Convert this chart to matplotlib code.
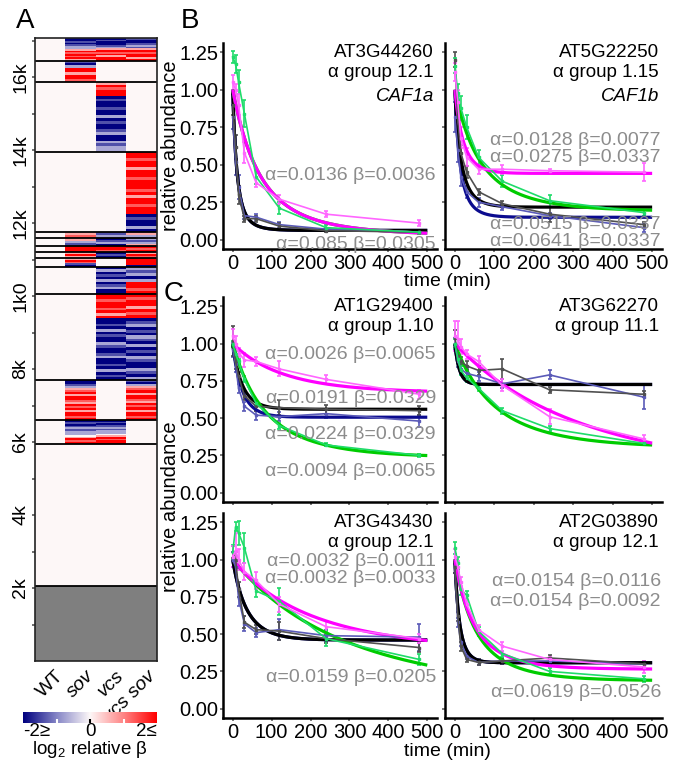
import numpy as np
import matplotlib
matplotlib.use("Agg")
import matplotlib.pyplot as plt
from matplotlib.colors import LinearSegmentedColormap

plt.rcParams["font.family"] = ["Liberation Sans", "DejaVu Sans"]
plt.rcParams["mathtext.fontset"] = "custom"
plt.rcParams["mathtext.rm"] = "Liberation Sans"
plt.rcParams["mathtext.it"] = "Liberation Sans:italic"

# ---------------- heatmap (panel A) ----------------
genotypes = ["WT", "sov", "vcs", "vcs sov"]
code_values = {"N": -2.0, "B": -1.4, "b": -0.7, "w": 0.0, "p": 0.7, "r": 1.3, "R": 2.0}
n_genes = 17070
unmodelled_genes = 2050
cluster_edges = [2050, 5950, 6600, 7700, 10050, 10800, 11030, 11200, 11370,
                 11590, 11750, 13950, 15870, 16450, 17070]
# stripe codes per cluster (bottom cluster first), each string read top to bottom
cluster_wt = ["w"] * 14
cluster_sov = ["w", "NBNBbBbbwpRrR", "NNBbprRpRRrpRrRpRRrR", "w", "w", "pRrBN",
               "pRp", "RRR", "pbB", "pr", "w", "w", "BNbRRpRRr", "NNBNBbbpRrRrRp"]
cluster_vcs = ["w", "NBNBbBbbwpRrRR", "w",
               "RRrRRrRpRNNBNbNBNNbBNNBbNNBNbNBN", "NbNBNbNBbNN", "w", "NBN",
               "RRr", "NBbN", "Bb", "w", "pRrRRNBNNBNNbNBNNBbNNbBbb", "w",
               "NBNNBbpRrRpRR"]
cluster_vcssov = ["w", "w", "BNbprRpRRrpRrRpRRrR",
                  "RrRRpRrRNBbNBNbBNbNBNbBNNbBNb", "bBbNbRRrR", "RRRN", "pRr",
                  "RrR", "bBbp", "pb", "RRrRRpRRrRRRrRpRRrRRNBNNbN", "w", "w",
                  "BNNBbBpRrRRpR"]
heat_yticks = [2000, 4000, 6000, 8000, 10000, 12000, 14000, 16000]
heat_yticklabels = ["2k", "4k", "6k", "8k", "1k0", "12k", "14k", "16k"]

# ---------------- decay curves (panels B, C) ----------------
times = [0, 7.5, 15, 30, 60, 120, 240, 480]
panel_genes = ["AT3G44260", "AT5G22250", "AT1G29400", "AT3G62270", "AT3G43430", "AT2G03890"]
panel_groups = ["α group 12.1", "α group 1.15", "α group 1.10", "α group 11.1",
                "α group 12.1", "α group 12.1"]
panel_names = ["CAF1a", "CAF1b", "", "", "", ""]

# mean relative abundance, order: WT, sov, vcs, vcs sov
means_AT3G44260 = [[0.90, 0.62, 0.30, 0.14, 0.14, 0.09, 0.06, 0.05],
                   [0.82, 0.52, 0.35, 0.16, 0.15, 0.10, 0.07, 0.05],
                   [1.22, 1.17, 1.05, 0.84, 0.42, 0.21, 0.08, 0.05],
                   [1.05, 1.00, 0.90, 0.58, 0.38, 0.27, 0.17, 0.11]]
means_AT5G22250 = [[1.20, 0.80, 0.58, 0.45, 0.32, 0.24, 0.17, 0.10],
                   [0.82, 0.60, 0.42, 0.32, 0.25, 0.22, 0.16, 0.08],
                   [1.16, 0.98, 0.88, 0.75, 0.55, 0.39, 0.26, 0.18],
                   [1.12, 0.92, 0.68, 0.55, 0.47, 0.47, 0.46, 0.45]]
means_AT1G29400 = [[1.02, 0.88, 0.78, 0.65, 0.58, 0.57, 0.56, 0.55],
                   [0.96, 0.86, 0.70, 0.58, 0.52, 0.51, 0.53, 0.48],
                   [1.00, 0.93, 0.88, 0.76, 0.60, 0.45, 0.32, 0.25],
                   [1.05, 1.00, 0.94, 0.89, 0.88, 0.83, 0.76, 0.66]]
means_AT3G62270 = [[1.04, 0.92, 0.88, 0.85, 0.82, 0.83, 0.69, 0.66],
                   [1.00, 0.88, 0.83, 0.80, 0.78, 0.73, 0.79, 0.64],
                   [1.00, 0.90, 0.82, 0.77, 0.70, 0.55, 0.43, 0.33],
                   [1.05, 1.03, 0.98, 0.93, 0.88, 0.72, 0.51, 0.36]]
means_AT3G43430 = [[1.05, 1.00, 0.80, 0.58, 0.53, 0.52, 0.47, 0.41],
                   [1.00, 0.95, 0.74, 0.57, 0.51, 0.53, 0.49, 0.48],
                   [1.05, 1.22, 1.18, 1.08, 0.79, 0.72, 0.47, 0.33],
                   [1.02, 1.06, 1.00, 0.92, 0.86, 0.70, 0.55, 0.47]]
means_AT2G03890 = [[0.95, 0.62, 0.42, 0.33, 0.31, 0.32, 0.34, 0.30],
                   [0.95, 0.58, 0.45, 0.35, 0.31, 0.32, 0.32, 0.30],
                   [1.08, 0.98, 0.80, 0.76, 0.52, 0.37, 0.25, 0.20],
                   [1.02, 0.95, 0.85, 0.70, 0.53, 0.42, 0.33, 0.28]]

# standard errors, same layout
errs_AT3G44260 = [[0.07, 0.08, 0.06, 0.02, 0.02, 0.02, 0.01, 0.01],
                  [0.08, 0.09, 0.08, 0.02, 0.02, 0.02, 0.01, 0.01],
                  [0.04, 0.06, 0.08, 0.09, 0.05, 0.04, 0.02, 0.01],
                  [0.05, 0.04, 0.07, 0.07, 0.03, 0.03, 0.02, 0.02]]
errs_AT5G22250 = [[0.05, 0.07, 0.05, 0.04, 0.02, 0.02, 0.05, 0.02],
                  [0.10, 0.08, 0.06, 0.04, 0.03, 0.02, 0.02, 0.03],
                  [0.05, 0.06, 0.08, 0.08, 0.05, 0.04, 0.04, 0.02],
                  [0.06, 0.08, 0.07, 0.06, 0.03, 0.03, 0.01, 0.06]]
errs_AT1G29400 = [[0.10, 0.05, 0.03, 0.03, 0.03, 0.05, 0.03, 0.03],
                  [0.05, 0.05, 0.03, 0.03, 0.03, 0.03, 0.03, 0.04],
                  [0.02, 0.02, 0.02, 0.02, 0.02, 0.02, 0.01, 0.01],
                  [0.05, 0.05, 0.03, 0.05, 0.03, 0.05, 0.03, 0.03]]
errs_AT3G62270 = [[0.05, 0.04, 0.03, 0.03, 0.03, 0.07, 0.02, 0.02],
                  [0.04, 0.04, 0.03, 0.03, 0.03, 0.03, 0.03, 0.08],
                  [0.03, 0.03, 0.03, 0.03, 0.02, 0.02, 0.02, 0.01],
                  [0.10, 0.12, 0.05, 0.03, 0.04, 0.04, 0.05, 0.03]]
errs_AT3G43430 = [[0.04, 0.05, 0.05, 0.04, 0.03, 0.06, 0.03, 0.03],
                  [0.05, 0.05, 0.05, 0.05, 0.03, 0.07, 0.04, 0.09],
                  [0.05, 0.03, 0.08, 0.10, 0.04, 0.09, 0.05, 0.04],
                  [0.07, 0.12, 0.07, 0.06, 0.06, 0.05, 0.04, 0.03]]
errs_AT2G03890 = [[0.04, 0.03, 0.03, 0.02, 0.02, 0.02, 0.02, 0.02],
                  [0.04, 0.03, 0.03, 0.02, 0.02, 0.02, 0.02, 0.02],
                  [0.04, 0.04, 0.04, 0.03, 0.03, 0.02, 0.02, 0.02],
                  [0.05, 0.04, 0.03, 0.03, 0.03, 0.03, 0.02, 0.04]]

# fitted decay-rate (alpha) and feedback (beta) parameters, WT, sov, vcs, vcs sov
alpha_AT3G44260 = [0.085, 0.085, 0.0136, 0.0136]
beta_AT3G44260 = [0.0305, 0.0305, 0.0036, 0.0036]
alpha_AT5G22250 = [0.0515, 0.0641, 0.0128, 0.0275]
beta_AT5G22250 = [0.0337, 0.0337, 0.0077, 0.0337]
alpha_AT1G29400 = [0.0191, 0.0224, 0.0094, 0.0026]
beta_AT1G29400 = [0.0329, 0.0329, 0.0065, 0.0065]
alpha_AT3G62270 = [0.025, 0.025, 0.0072, 0.0028]
beta_AT3G62270 = [0.078, 0.078, 0.006, 0.001]
alpha_AT3G43430 = [0.0159, 0.0159, 0.0032, 0.0032]
beta_AT3G43430 = [0.0205, 0.0205, 0.0011, 0.0033]
alpha_AT2G03890 = [0.0619, 0.0619, 0.0154, 0.0154]
beta_AT2G03890 = [0.0526, 0.0526, 0.0092, 0.0116]

# which genotype's parameters are printed, with the label height (relative abundance)
label_rows_AT3G44260 = [(2, 0.43), (0, -0.03)]
label_rows_AT5G22250 = [(2, 0.665), (3, 0.545), (0, 0.10), (1, -0.01)]
label_rows_AT1G29400 = [(3, 0.93), (0, 0.63), (1, 0.39), (2, 0.14)]
label_rows_AT3G62270 = []
label_rows_AT3G43430 = [(2, 0.99), (3, 0.87), (0, 0.21)]
label_rows_AT2G03890 = [(3, 0.85), (2, 0.72), (0, 0.11)]

panel_means = [means_AT3G44260, means_AT5G22250, means_AT1G29400,
               means_AT3G62270, means_AT3G43430, means_AT2G03890]
panel_errs = [errs_AT3G44260, errs_AT5G22250, errs_AT1G29400,
              errs_AT3G62270, errs_AT3G43430, errs_AT2G03890]
panel_alpha = [alpha_AT3G44260, alpha_AT5G22250, alpha_AT1G29400,
               alpha_AT3G62270, alpha_AT3G43430, alpha_AT2G03890]
panel_beta = [beta_AT3G44260, beta_AT5G22250, beta_AT1G29400,
              beta_AT3G62270, beta_AT3G43430, beta_AT2G03890]
panel_labels = [label_rows_AT3G44260, label_rows_AT5G22250, label_rows_AT1G29400,
                label_rows_AT3G62270, label_rows_AT3G43430, label_rows_AT2G03890]

fit_colors = ["#000000", "#0b0b8f", "#00cc00", "#ff00ff"]
data_colors = ["#505050", "#5a5ab8", "#1fdc6a", "#ff66ff"]
draw_order = [1, 0, 2, 3]

# ---------------- figure ----------------
W, H = 678, 760
fig = plt.figure(figsize=(W / 100, H / 100), dpi=100)


def px_axes(x0, y0, x1, y1):
    return fig.add_axes([x0 / W, 1 - y1 / H, (x1 - x0) / W, (y1 - y0) / H])


# ---- panel A heatmap ----
res = 5
grid = np.zeros((n_genes // res, 4))
grid[: unmodelled_genes // res, :] = np.nan
columns = [cluster_wt, cluster_sov, cluster_vcs, cluster_vcssov]
for k in range(len(cluster_edges) - 1):
    r0, r1 = cluster_edges[k] // res, cluster_edges[k + 1] // res
    for c, col in enumerate(columns):
        vals = np.array([code_values[ch] for ch in col[k]][::-1])
        idx = np.linspace(0, len(vals), r1 - r0, endpoint=False).astype(int)
        grid[r0:r1, c] = vals[idx]

cmap = LinearSegmentedColormap.from_list(
    "beta", ["#00007f", "#8585c6", "#fdf8f8", "#ff8585", "#ff0000"])
cmap.set_bad("#7f7f7f")

axh = px_axes(35, 38, 157, 661)
axh.imshow(np.ma.masked_invalid(grid), aspect="auto", origin="lower", cmap=cmap,
           vmin=-2, vmax=2, extent=(0, 4, 0, n_genes), interpolation="nearest")
axh.hlines(cluster_edges[:-1], 0, 4, color="black", lw=1.3)
axh.set_xlim(0, 4)
axh.set_ylim(0, n_genes)
axh.set_yticks(heat_yticks)
axh.set_yticklabels(heat_yticklabels, rotation=90, va="center", fontsize=14)
axh.set_yticks(np.arange(1000, 17001, 2000), minor=True)
axh.tick_params(axis="y", which="both", length=2, width=1.2, color="#555555", pad=2)
axh.set_xticks([])
for c, name in enumerate(genotypes):
    axh.text(c + 0.85, -0.02, name, transform=axh.get_xaxis_transform(),
             rotation=45, rotation_mode="anchor", ha="right", va="center",
             fontsize=14, fontstyle="normal" if c == 0 else "italic")
for s in axh.spines.values():
    s.set_linewidth(1.2)
    s.set_color("#222222")

# colour bar
axc = px_axes(23, 712, 157, 723)
axc.imshow(np.linspace(-2, 2, 256)[None, :], aspect="auto", cmap=cmap, vmin=-2, vmax=2,
           extent=(-2, 2, 0, 1))
axc.vlines([-1, 1], 0, 0.35, color="white", lw=1.5)
axc.vlines([0], 0, 0.35, color="black", lw=1.5)
axc.set_xlim(-2, 2)
axc.set_ylim(0, 1)
axc.axis("off")
fig.text(23 / W, 1 - 731 / H, "-2≥", fontsize=13.5, ha="left", va="center")
fig.text(90 / W, 1 - 731 / H, "0", fontsize=13.5, ha="center", va="center")
fig.text(157 / W, 1 - 731 / H, "2≤", fontsize=13.5, ha="right", va="center")
fig.text(90 / W, 1 - 750 / H, r"log$_{2}$ relative β", fontsize=13.5, ha="center",
         va="center")


# ---- panels B and C ----
def decay_curve(t, a, b):
    return np.exp(-(a / b) * (1 - np.exp(-b * t)))


boxes = [(223, 43, 437, 249), (445, 43, 662, 249),
         (223, 297, 437, 502), (445, 297, 662, 502),
         (223, 513, 437, 718), (445, 513, 662, 718)]
tt = np.linspace(0, 500, 501)
for p, box in enumerate(boxes):
    ax = px_axes(*box)
    means, errs = panel_means[p], panel_errs[p]
    for g in draw_order:
        ax.errorbar(times, means[g], yerr=errs[g], color=data_colors[g], lw=1.2,
                    elinewidth=1.2, capsize=1.5, capthick=1.2, marker="s", ms=1.8)
    for g in draw_order:
        ax.plot(tt, decay_curve(tt, panel_alpha[p][g], panel_beta[p][g]),
                color=fit_colors[g], lw=2.3, solid_capstyle="butt")
    for g, yv in panel_labels[p]:
        ax.text(0.995, yv, f"α={panel_alpha[p][g]:g} β={panel_beta[p][g]:g}",
                transform=ax.get_yaxis_transform(), ha="right", va="center",
                fontsize=14, color="#8c8c8c")
    ax.text(0.985, 0.955, panel_genes[p], transform=ax.transAxes, ha="right",
            va="center", fontsize=13.5)
    ax.text(0.985, 0.858, panel_groups[p], transform=ax.transAxes, ha="right",
            va="center", fontsize=13.5)
    if panel_names[p]:
        ax.text(0.985, 0.738, panel_names[p], transform=ax.transAxes, ha="right",
                va="center", fontsize=13.5, fontstyle="italic")
    ax.set_xlim(-25, 525)
    ax.set_ylim(-0.0625, 1.3125)
    ax.set_xticks([0, 100, 200, 300, 400, 500])
    ax.set_yticks([0, 0.25, 0.5, 0.75, 1.0, 1.25])
    ax.set_yticklabels(["0.00", "0.25", "0.50", "0.75", "1.00", "1.25"])
    ax.tick_params(length=2.5, width=1.2, color="#666666", labelsize=14.5, pad=1)
    if p % 2 == 1:
        ax.tick_params(labelleft=False)
    if p in (2, 3):
        ax.tick_params(labelbottom=False)
    for s in ("top", "right"):
        ax.spines[s].set_visible(False)
    for s in ("left", "bottom"):
        ax.spines[s].set_linewidth(1.8)

fig.text(447 / W, 1 - 282 / H, "time (min)", fontsize=14, ha="center", va="center")
fig.text(447 / W, 1 - 751 / H, "time (min)", fontsize=14, ha="center", va="center")
fig.text(170 / W, 1 - 146 / H, "relative abundance", fontsize=14.5, ha="center",
         va="center", rotation=90)
fig.text(170 / W, 1 - 507 / H, "relative abundance", fontsize=14.5, ha="center",
         va="center", rotation=90)

fig.text(25 / W, 1 - 21 / H, "A", fontsize=20, ha="center", va="center")
fig.text(190 / W, 1 - 21 / H, "B", fontsize=20, ha="center", va="center")
fig.text(174 / W, 1 - 294 / H, "C", fontsize=20, ha="center", va="center")

fig.savefig("out.png", dpi=100)
